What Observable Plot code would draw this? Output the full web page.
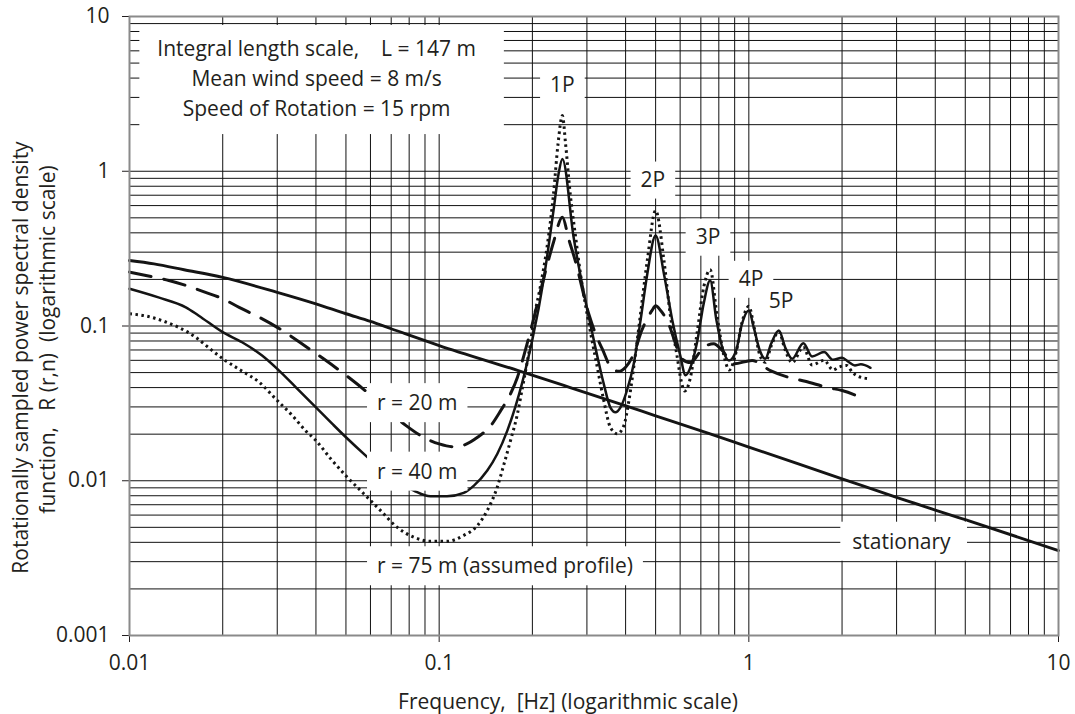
<!DOCTYPE html>
<html>
<head>
<meta charset="utf-8">
<script src="https://cdn.jsdelivr.net/npm/d3@7"></script>
<script src="https://cdn.jsdelivr.net/npm/@observablehq/plot@0.6"></script>
<style>
  html, body { margin: 0; padding: 0; background: #fff; }
  svg { display: block; }
</style>
</head>
<body>
<div id="chart"></div>
<script>
// Rotationally sampled power spectral density R(r,n) against frequency n (Hz)

// Stationary (non-rotating) spectrum
const stationaryF = [0.01, 0.012, 0.015, 0.02, 0.03, 0.04, 0.05, 0.06, 0.07, 0.1, 0.18, 0.265, 0.5, 0.75, 1, 2, 3, 5, 10];
const stationaryR = [0.265, 0.252, 0.231, 0.206, 0.165, 0.139, 0.120, 0.107, 0.096, 0.0748, 0.0515, 0.040, 0.0263, 0.0201, 0.0165, 0.0103, 0.0078, 0.0056, 0.00354];

// r = 20 m
const r20F = [0.01, 0.0113, 0.0134, 0.0152, 0.0176, 0.02, 0.0226, 0.0262, 0.03, 0.037, 0.043, 0.05, 0.057, 0.065, 0.078, 0.089, 0.1, 0.111, 0.119, 0.133, 0.147, 0.158, 0.17, 0.179, 0.188, 0.197, 0.223, 0.234, 0.25, 0.262, 0.275, 0.304, 0.32, 0.336, 0.362, 0.38, 0.40, 0.425, 0.451, 0.487, 0.5, 0.519, 0.551, 0.58, 0.601, 0.648, 0.715, 0.77, 0.82, 0.894, 1.025, 1.174, 1.363, 1.52, 1.81, 2.0, 2.35];
const r20R = [0.223, 0.212, 0.197, 0.183, 0.165, 0.150, 0.132, 0.114, 0.098, 0.074, 0.060, 0.048, 0.039, 0.031, 0.0228, 0.0191, 0.0173, 0.0166, 0.0169, 0.0191, 0.0228, 0.0284, 0.0365, 0.0467, 0.065, 0.092, 0.246, 0.348, 0.505, 0.365, 0.265, 0.120, 0.089, 0.0713, 0.0528, 0.051, 0.0542, 0.066, 0.0935, 0.126, 0.135, 0.126, 0.103, 0.0767, 0.0626, 0.058, 0.073, 0.0767, 0.0695, 0.057, 0.0598, 0.0515, 0.0462, 0.0439, 0.0399, 0.0383, 0.0339];

// r = 40 m
const r40F = [0.01, 0.0124, 0.0152, 0.0167, 0.02, 0.0231, 0.0268, 0.03, 0.0344, 0.04, 0.0452, 0.05, 0.0578, 0.07, 0.0828, 0.0937, 0.106, 0.12, 0.1295, 0.143, 0.154, 0.166, 0.176, 0.185, 0.192, 0.1997, 0.218, 0.234, 0.243, 0.25, 0.272, 0.293, 0.316, 0.34, 0.357, 0.371, 0.385, 0.404, 0.425, 0.447, 0.47, 0.5, 0.532, 0.566, 0.6, 0.625, 0.65, 0.68, 0.715, 0.75, 0.786, 0.826, 0.863, 0.91, 0.95, 1.0, 1.037, 1.085, 1.13, 1.18, 1.25, 1.31, 1.38, 1.5, 1.6, 1.75, 1.87, 2.0, 2.1, 2.2, 2.3, 2.47];
const r40R = [0.174, 0.153, 0.132, 0.117, 0.0912, 0.0785, 0.0644, 0.0528, 0.0403, 0.0298, 0.0233, 0.0191, 0.0146, 0.0105, 0.00865, 0.00794, 0.00794, 0.00835, 0.0093, 0.01164, 0.0149, 0.0211, 0.0298, 0.0423, 0.057, 0.0805, 0.206, 0.557, 0.963, 1.20, 0.37, 0.165, 0.0805, 0.0423, 0.0298, 0.0277, 0.0298, 0.0383, 0.057, 0.1087, 0.217, 0.385, 0.217, 0.109, 0.065, 0.048, 0.055, 0.078, 0.14, 0.197, 0.1087, 0.0695, 0.0598, 0.0695, 0.103, 0.126, 0.098, 0.0695, 0.0614, 0.0767, 0.0935, 0.073, 0.0614, 0.0774, 0.0636, 0.0678, 0.0605, 0.0624, 0.0585, 0.0556, 0.0565, 0.0537];

// r = 75 m (assumed profile)
const r75F = [0.01, 0.0113, 0.0128, 0.0144, 0.0163, 0.018, 0.02, 0.0226, 0.0262, 0.03, 0.0335, 0.037, 0.04, 0.0446, 0.0505, 0.0571, 0.0646, 0.0731, 0.0828, 0.0937, 0.106, 0.12, 0.133, 0.143, 0.154, 0.162, 0.17, 0.179, 0.185, 0.192, 0.197, 0.202, 0.212, 0.223, 0.234, 0.242, 0.25, 0.256, 0.265, 0.275, 0.286, 0.304, 0.324, 0.34, 0.357, 0.376, 0.395, 0.41, 0.425, 0.447, 0.47, 0.5, 0.532, 0.557, 0.585, 0.605, 0.62, 0.648, 0.68, 0.715, 0.75, 0.79, 0.83, 0.865, 0.91, 0.95, 1.0, 1.04, 1.085, 1.13, 1.18, 1.25, 1.31, 1.38, 1.5, 1.6, 1.75, 1.87, 1.95, 2.07, 2.16, 2.27, 2.47];
const r75R = [0.120, 0.116, 0.108, 0.098, 0.085, 0.0725, 0.0615, 0.0525, 0.0434, 0.033, 0.0265, 0.0211, 0.0182, 0.0139, 0.01054, 0.00824, 0.00643, 0.00501, 0.00432, 0.00406, 0.00406, 0.00443, 0.00514, 0.00643, 0.00908, 0.01285, 0.0182, 0.0271, 0.0383, 0.057, 0.0767, 0.109, 0.178, 0.323, 0.714, 1.50, 2.29, 1.50, 0.714, 0.394, 0.217, 0.105, 0.0542, 0.033, 0.0222, 0.0201, 0.0228, 0.033, 0.0542, 0.120, 0.265, 0.557, 0.265, 0.120, 0.066, 0.044, 0.038, 0.0467, 0.089, 0.178, 0.231, 0.115, 0.065, 0.052, 0.068, 0.105, 0.134, 0.098, 0.065, 0.0583, 0.074, 0.092, 0.07, 0.058, 0.073, 0.056, 0.060, 0.052, 0.0542, 0.0556, 0.0502, 0.047, 0.0456];

// Axis ticks and labels
const xTicks = [0.01, 0.1, 1, 10];
const xTickLabels = ["0.01", "0.1", "1", "10"];
const yTicks = [0.001, 0.01, 0.1, 1, 10];
const yTickLabels = ["0.001", "0.01", "0.1", "1", "10"];
const gridSteps = [1, 2, 3, 4, 5, 6, 7, 8, 9];

// Annotations
const infoLines = [
  "Integral length scale,\u00a0\u00a0\u00a0 L = 147 m",
  "Mean wind speed = 8 m/s",
  "Speed of Rotation = 15 rpm"
];
const infoF = 0.0402, infoR = 4.1;

const harmonicLabels = ["1P", "2P", "3P", "4P", "5P"];
const harmonicF = [0.25, 0.49, 0.738, 1.016, 1.27];
const harmonicR = [3.58, 0.88, 0.376, 0.201, 0.144];

const radiusLabels = ["r = 20 m", "r = 40 m", "r = 75 m (assumed profile)"];
const radiusLabelF = [0.063, 0.063, 0.063];
const radiusLabelR = [0.0316, 0.0114, 0.00279];

const stationaryLabel = "stationary";
const stationaryLabelF = 3.11, stationaryLabelR = 0.00402;

const xTitle = "Frequency,\u00a0 [Hz] (logarithmic scale)";
const yTitle1 = "Rotationally sampled power spectral density";
const yTitle2 = "function,\u00a0\u00a0 R (r,n)\u00a0\u00a0(logarithmic scale)";

// Build tables for the marks
const series = [
  {name: "stationary", f: stationaryF, r: stationaryR},
  {name: "r20", f: r20F, r: r20R},
  {name: "r40", f: r40F, r: r40R},
  {name: "r75", f: r75F, r: r75R}
];
const rows = series.flatMap(s => s.f.map((f, i) => ({series: s.name, f, R: s.r[i]})));
const lineStyle = {
  stationary: {strokeWidth: 2.9},
  r20: {strokeWidth: 3, strokeDasharray: "22,13"},
  r40: {strokeWidth: 2.5},
  r75: {strokeWidth: 3, strokeDasharray: "2.5,3.5", strokeLinecap: "butt"}
};

const gridX = [0.01, 0.1, 1].flatMap(d => gridSteps.map(k => k * d)).concat([10]);
const gridY = [0.001, 0.01, 0.1, 1].flatMap(d => gridSteps.map(k => k * d)).concat([10]);

const harmonicRows = harmonicLabels.map((t, i) => ({t, f: harmonicF[i], R: harmonicR[i]}));
const radiusRows = radiusLabels.map((t, i) => ({t, f: radiusLabelF[i], R: radiusLabelR[i]}));

const ink = "#231f20";

const svg = Plot.plot({
  width: 1075,
  height: 714,
  marginLeft: 129,
  marginRight: 17,
  marginTop: 16,
  marginBottom: 79,
  style: {fontFamily: "'Open Sans', sans-serif", fontSize: "21px", color: ink, background: "#fff"},
  x: {
    type: "log", domain: [0.01, 10], ticks: xTicks,
    tickFormat: d => xTickLabels[xTicks.indexOf(d)],
    tickSize: 7, tickPadding: 13, label: null
  },
  y: {
    type: "log", domain: [0.001, 10], ticks: yTicks,
    tickFormat: d => yTickLabels[yTicks.indexOf(d)],
    tickSize: 7, tickPadding: 13, label: null
  },
  marks: [
    Plot.ruleX(gridX, {stroke: "#111", strokeWidth: 1}),
    Plot.ruleY(gridY, {stroke: "#111", strokeWidth: 1}),
    ...series.map(s => Plot.line(rows.filter(d => d.series === s.name), {
      x: "f", y: "R", curve: "monotone-x", stroke: "#141414",
      ...lineStyle[s.name]
    })),
    Plot.frame({stroke: "#8a8a8a", strokeWidth: 2}),
    Plot.text([{t: infoLines.join("\n"), f: infoF, R: infoR}], {
      x: "f", y: "R", text: "t", lineHeight: 1.43, textAnchor: "middle", lineAnchor: "middle", fill: ink
    }),
    Plot.text(harmonicRows, {x: "f", y: "R", text: "t", textAnchor: "middle", lineAnchor: "middle", fill: ink}),
    Plot.text(radiusRows, {x: "f", y: "R", text: "t", textAnchor: "start", lineAnchor: "middle", fill: ink}),
    Plot.text([{t: stationaryLabel, f: stationaryLabelF, R: stationaryLabelR}], {
      x: "f", y: "R", text: "t", textAnchor: "middle", lineAnchor: "middle", fill: ink
    }),
    Plot.text([xTitle], {text: d => d, frameAnchor: "bottom", dx: -26, dy: 67, textAnchor: "middle", lineAnchor: "middle", fill: ink}),
    Plot.text([yTitle1], {text: d => d, frameAnchor: "left", rotate: -90, dx: -108, dy: 31.5, textAnchor: "middle", lineAnchor: "middle", fill: ink}),
    Plot.text([yTitle2], {text: d => d, frameAnchor: "left", rotate: -90, dx: -81, dy: 13.5, textAnchor: "middle", lineAnchor: "middle", fill: ink})
  ]
});

document.getElementById("chart").appendChild(svg);

// White boxes behind the annotation labels (they mask the grid and the curves)
const smallPad = {l: 10, r: 10, t: 3, b: 6};
const boxPads = new Map([
  [infoLines.join(""), {l: 18, r: 28, t: 9, b: 12}],
  ...harmonicLabels.map(t => [t, smallPad]),
  ...radiusLabels.map(t => [t, {l: 10, r: 10, t: 5, b: 6}]),
  [stationaryLabel, {l: 12, r: 16, t: 5, b: 6}]
]);
svg.querySelectorAll("text").forEach(t => {
  const pad = boxPads.get(t.textContent);
  if (!pad) return;
  const b = t.getBBox();
  const rect = document.createElementNS("http://www.w3.org/2000/svg", "rect");
  rect.setAttribute("x", b.x - pad.l);
  rect.setAttribute("y", b.y - pad.t);
  rect.setAttribute("width", b.width + pad.l + pad.r);
  rect.setAttribute("height", b.height + pad.t + pad.b);
  rect.setAttribute("fill", "#fff");
  const tr = t.getAttribute("transform");
  if (tr) rect.setAttribute("transform", tr);
  t.parentNode.insertBefore(rect, t);
});
</script>
</body>
</html>
